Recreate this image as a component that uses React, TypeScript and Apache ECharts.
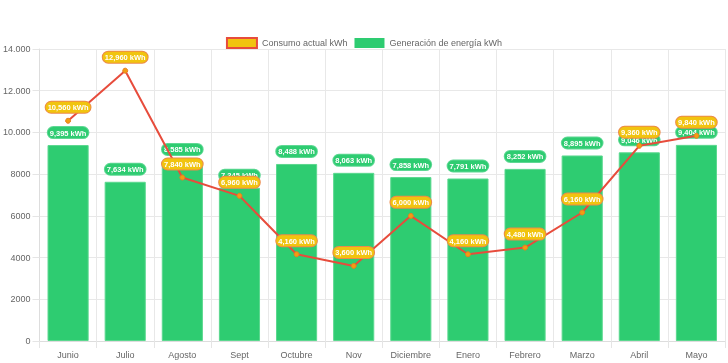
import React, { useEffect, useRef } from "react";
import * as echarts from "echarts";

const months = ["Junio", "Julio", "Agosto", "Sept", "Octubre", "Nov", "Diciembre", "Enero", "Febrero", "Marzo", "Abril", "Mayo"];
const consumo = [10560, 12960, 7840, 6960, 4160, 3600, 6000, 4160, 4480, 6160, 9360, 9840];
const generacion = [9395, 7634, 8585, 7345, 8488, 8063, 7858, 7791, 8252, 8895, 9046, 9404];
const consumoName = "Consumo actual kWh";
const generacionName = "Generación de energía kWh";

const FONT = "'Liberation Sans', Arial, Helvetica, sans-serif";

function fmtLabel(v: number): string {
  return String(v).replace(/\B(?=(\d{3})+(?!\d))/g, ",") + " kWh";
}
function fmtAxis(v: number): string {
  if (v >= 10000) return String(v).replace(/\B(?=(\d{3})+(?!\d))/g, ".");
  return String(v);
}

export default function App() {
  const ref = useRef<HTMLDivElement>(null);
  useEffect(() => {
    if (!ref.current) return;
    const chart = echarts.init(ref.current, undefined, { renderer: "svg" });
    chart.setOption({
      animation: false,
      textStyle: { fontFamily: FONT },
      legend: {
        top: 32,
        left: "center",
        itemWidth: 30,
        itemHeight: 10,
        itemGap: 7,
        textStyle: { color: "#666", fontSize: 9, fontFamily: FONT },
        data: [
          { name: consumoName, icon: "rect", itemStyle: { color: "#f1c40f", borderColor: "#e74c3c", borderWidth: 2 } },
          { name: generacionName, icon: "rect", itemStyle: { color: "#2ecc71", borderColor: "#2ecc71", borderWidth: 0 } },
        ],
      },
      grid: { left: 38, right: 3, top: 49, bottom: 22, containLabel: false },
      xAxis: {
        type: "category",
        data: months,
        boundaryGap: true,
        axisLine: { show: true, lineStyle: { color: "#ddd" } },
        axisTick: { show: true, length: 7, lineStyle: { color: "#e5e5e5" } },
        splitLine: { show: true, lineStyle: { color: "#e8e8e8" } },
        axisLabel: { color: "#666", fontSize: 9, margin: 9, fontFamily: FONT, interval: 0 },
      },
      yAxis: {
        type: "value",
        min: 0,
        max: 14000,
        interval: 2000,
        axisLine: { show: true, lineStyle: { color: "#ddd" } },
        axisTick: { show: true, length: 7, lineStyle: { color: "#e5e5e5" } },
        splitLine: { show: true, lineStyle: { color: "#e8e8e8" } },
        axisLabel: { color: "#666", fontSize: 9, margin: 9, fontFamily: FONT, formatter: (v: number) => fmtAxis(v) },
      },
      series: [
        {
          name: consumoName,
          type: "line",
          data: consumo,
          z: 5,
          symbol: "circle",
          symbolSize: 5,
          lineStyle: { color: "#e74c3c", width: 2 },
          itemStyle: { color: "#f39c12", borderColor: "#e67e22", borderWidth: 1 },
          label: {
            show: true,
            position: "top",
            distance: 5,
            formatter: (p: any) => fmtLabel(p.value),
            color: "#fff",
            fontSize: 7.5,
            fontWeight: "bold",
            fontFamily: FONT,
            backgroundColor: "#f1c40f",
            borderColor: "#ec8a4a",
            borderWidth: 1,
            borderRadius: 6,
            padding: [2, 2, 1, 2],
          },
        },
        {
          name: generacionName,
          type: "bar",
          data: generacion,
          z: 2,
          barWidth: "72%",
          itemStyle: { color: "#2ecc71", borderColor: "#5bd88f", borderWidth: 1 },
          label: {
            show: true,
            position: "top",
            distance: 7,
            formatter: (p: any) => fmtLabel(p.value),
            color: "#fff",
            fontSize: 7.5,
            fontWeight: "bold",
            fontFamily: FONT,
            backgroundColor: "#2ecc71",
            borderColor: "#5fd894",
            borderWidth: 1,
            borderRadius: 6,
            padding: [2, 2, 1, 2],
          },
        },
      ],
    });
    return () => chart.dispose();
  }, []);
  return <div ref={ref} style={{ position: "fixed", left: 0, top: 0, width: 728, height: 363 }} />;
}
